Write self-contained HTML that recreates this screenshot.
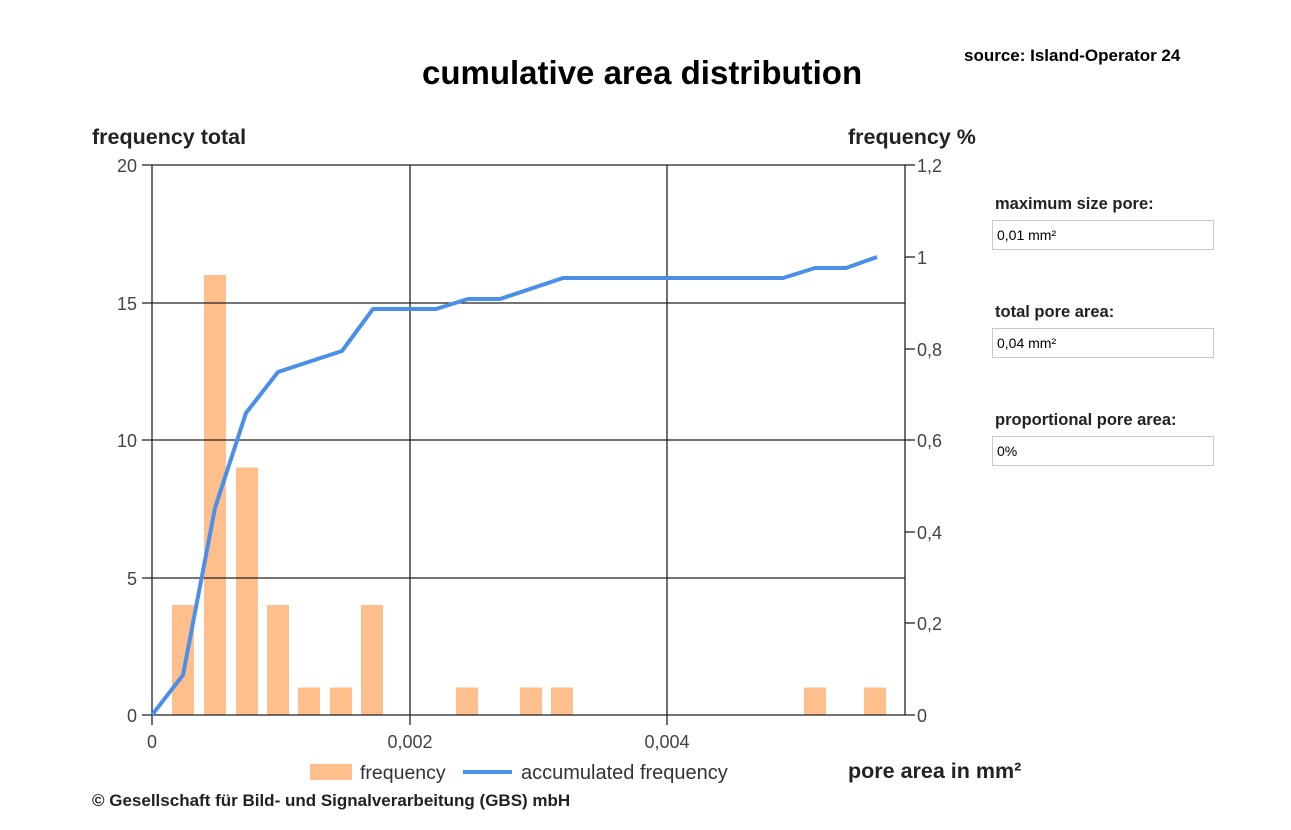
<!DOCTYPE html>
<html><head><meta charset="utf-8"><style>
body{margin:0;background:#fff;width:1291px;height:830px;overflow:hidden;font-family:"Liberation Sans",Arial,sans-serif}
.t{position:absolute;white-space:nowrap}
.b{font-weight:bold}
.box{position:absolute;left:992px;width:216px;height:28px;border:1px solid #c8c8c8;font-size:14px;line-height:28px;padding-left:4px;box-sizing:content-box}
</style></head><body>
<div class="t b" style="left:422px;top:54px;font-size:33px">cumulative area distribution</div>
<div class="t b" style="left:964px;top:46px;font-size:17px">source: Island-Operator 24</div>
<div class="t b" style="left:92px;top:125px;font-size:21.5px;color:#222">frequency total</div>
<div class="t b" style="left:848px;top:125px;font-size:21.5px;color:#222">frequency %</div>
<div class="t b" style="left:848px;top:759px;font-size:21.5px;color:#222">pore area in mm²</div>
<div class="t b" style="left:92px;top:791px;font-size:17px;color:#222">© Gesellschaft für Bild- und Signalverarbeitung (GBS) mbH</div>
<div class="t b" style="left:995px;top:195px;font-size:16.5px;color:#222">maximum size pore:</div>
<div class="box" style="top:220px">0,01 mm²</div>
<div class="t b" style="left:995px;top:303px;font-size:16.5px;color:#222">total pore area:</div>
<div class="box" style="top:328px">0,04 mm²</div>
<div class="t b" style="left:995px;top:411px;font-size:16.5px;color:#222">proportional pore area:</div>
<div class="box" style="top:436px">0%</div>
<svg width="1291" height="830" style="position:absolute;left:0;top:0" font-family="Liberation Sans,Arial,sans-serif">
<g fill="#FFBF8C">
<rect x="172" y="605" width="22" height="110"/>
<rect x="204" y="275" width="22" height="440"/>
<rect x="236" y="467.5" width="22" height="247.5"/>
<rect x="267" y="605" width="22" height="110"/>
<rect x="298" y="687.5" width="22" height="27.5"/>
<rect x="330" y="687.5" width="22" height="27.5"/>
<rect x="361" y="605" width="22" height="110"/>
<rect x="456" y="687.5" width="22" height="27.5"/>
<rect x="520" y="687.5" width="22" height="27.5"/>
<rect x="551" y="687.5" width="22" height="27.5"/>
<rect x="804" y="687.5" width="22" height="27.5"/>
<rect x="864" y="687.5" width="22" height="27.5"/>
</g>
<g stroke="#222" stroke-width="1.3" fill="none">
<line x1="142" y1="165" x2="905" y2="165"/>
<line x1="142" y1="303" x2="905" y2="303"/>
<line x1="142" y1="440" x2="905" y2="440"/>
<line x1="142" y1="578" x2="905" y2="578"/>
<line x1="142" y1="715" x2="915" y2="715"/>
<line x1="152" y1="165" x2="152" y2="725"/>
<line x1="410" y1="165" x2="410" y2="725"/>
<line x1="667" y1="165" x2="667" y2="725"/>
<line x1="905" y1="165" x2="905" y2="715"/>
<line x1="905" y1="165" x2="915" y2="165"/>
<line x1="905" y1="257" x2="915" y2="257"/>
<line x1="905" y1="349" x2="915" y2="349"/>
<line x1="905" y1="440" x2="915" y2="440"/>
<line x1="905" y1="532" x2="915" y2="532"/>
<line x1="905" y1="623" x2="915" y2="623"/>
</g>
<polyline fill="none" stroke="#4A90E8" stroke-width="4" stroke-linejoin="round" points="152,715 183,675 215,508 246,413 278,372 342,351 373,309 436,309 468,299 500,299 563,278 783,278 815,268 846,268 877,257"/>
<g font-size="18" fill="#444" text-anchor="end">
<text x="137" y="172">20</text><text x="137" y="310">15</text><text x="137" y="447">10</text><text x="137" y="585">5</text><text x="137" y="722">0</text>
</g>
<g font-size="18" fill="#444">
<text x="917" y="172">1,2</text><text x="917" y="264">1</text><text x="917" y="356">0,8</text><text x="917" y="447">0,6</text><text x="917" y="539">0,4</text><text x="917" y="630">0,2</text><text x="917" y="722">0</text>
</g>
<g font-size="18" fill="#444" text-anchor="middle">
<text x="152" y="748">0</text><text x="410" y="748">0,002</text><text x="667" y="748">0,004</text>
</g>
<rect x="310" y="764" width="42" height="16" fill="#FFBF8C"/>
<text x="360" y="779" font-size="19.5" fill="#333">frequency</text>
<line x1="463" y1="772" x2="512" y2="772" stroke="#4A90E8" stroke-width="4"/>
<text x="521" y="779" font-size="20" fill="#333">accumulated frequency</text>
</svg>
</body></html>
